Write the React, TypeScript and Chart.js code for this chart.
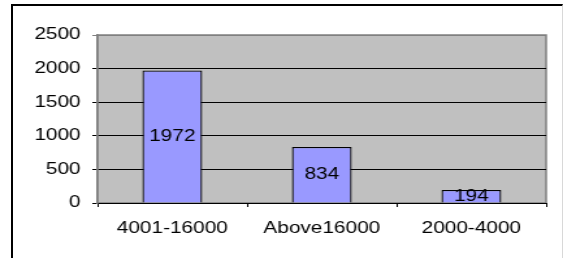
import React, { useEffect, useRef } from 'react';
import { Chart, registerables } from 'chart.js';
Chart.register(...registerables);

const categories = ['4001-16000', 'Above16000', '2000-4000'];
const counts = [1972, 834, 194];
const yTickValues = [0, 500, 1000, 1500, 2000, 2500];

const W = 563;
const H = 258;
const SX = 1.3; // horizontal stretch of the whole picture
const IW = Math.round(W / SX);

export default function App() {
  const ref = useRef<HTMLCanvasElement>(null);
  useEffect(() => {
    document.body.style.margin = '0';
    const canvas = ref.current;
    if (!canvas) return;
    const plotBg = {
      id: 'plotBg',
      beforeDraw(chart: any) {
        const { ctx, chartArea: a } = chart;
        ctx.save();
        ctx.fillStyle = '#C0C0C0';
        ctx.fillRect(a.left, a.top, a.right - a.left, a.bottom - a.top);
        ctx.strokeStyle = '#808080';
        ctx.lineWidth = 1.5;
        ctx.strokeRect(a.left, a.top, a.right - a.left, a.bottom - a.top);
        ctx.restore();
      },
    };
    const barLabels = {
      id: 'barLabels',
      afterDatasetsDraw(chart: any) {
        const { ctx } = chart;
        const meta = chart.getDatasetMeta(0);
        ctx.save();
        ctx.fillStyle = '#000';
        ctx.font = '16px "Liberation Sans", Arial, sans-serif';
        ctx.textAlign = 'center';
        ctx.textBaseline = 'middle';
        meta.data.forEach((bar: any, i: number) => {
          const { x, y, base } = bar.getProps(['x', 'y', 'base'], true);
          ctx.fillText(String(counts[i]), x, (y + base) / 2);
        });
        ctx.restore();
      },
    };
    const chart = new Chart(canvas, {
      type: 'bar',
      data: {
        labels: categories,
        datasets: [
          {
            data: counts,
            backgroundColor: '#9999FF',
            borderColor: '#000',
            borderWidth: 1.3,
            categoryPercentage: 1,
            barPercentage: 0.4,
          },
        ],
      },
      options: {
        animation: false,
        responsive: false,
        devicePixelRatio: 1,
        layout: { padding: { top: 35, left: 0, right: IW - 420, bottom: 0 } },
        plugins: { legend: { display: false }, tooltip: { enabled: false } },
        font: { family: '"Liberation Sans", Arial, sans-serif', size: 16 },
        scales: {
          x: {
            grid: { drawOnChartArea: false, drawTicks: true, tickLength: 4, color: '#000', lineWidth: 1 },
            border: { color: '#000', width: 1 },
            ticks: {
              color: '#000',
              padding: 12,
              maxRotation: 0,
              autoSkip: false,
              font: { family: '"Liberation Sans", Arial, sans-serif', size: 16 },
            },
            afterFit(scale: any) {
              scale.height = H - 203;
            },
          },
          y: {
            min: 0,
            max: 2500,
            afterBuildTicks(scale: any) {
              scale.ticks = yTickValues.map((v) => ({ value: v }));
            },
            grid: {
              drawTicks: true,
              tickLength: 4,
              color: (c: any) => (c.tick && c.tick.value === 2500 ? '#808080' : '#000'),
              lineWidth: 1,
            },
            border: { color: '#808080', width: 1.5 },
            ticks: {
              color: '#000',
              padding: 9,
              callback: (v: any) => String(v),
              font: { family: '"Liberation Sans", Arial, sans-serif', size: 16 },
            },
            afterFit(scale: any) {
              scale.width = 75;
            },
          },
        },
      },
      plugins: [plotBg, barLabels],
    });
    return () => chart.destroy();
  }, []);
  return (
    <div style={{ position: 'fixed', left: 0, top: 0, width: W, height: H, background: '#fff', overflow: 'hidden' }}>
      <canvas ref={ref} width={IW} height={H} style={{ width: W + 'px', height: H + 'px', display: 'block' }} />
      <div
        style={{
          position: 'absolute',
          left: 11,
          top: 4,
          width: W - 11,
          height: H,
          boxSizing: 'border-box',
          borderLeft: '2px solid #000',
          borderTop: '2px solid #000',
          borderRight: '1px solid #d8d8d8',
          pointerEvents: 'none',
        }}
      />
    </div>
  );
}
